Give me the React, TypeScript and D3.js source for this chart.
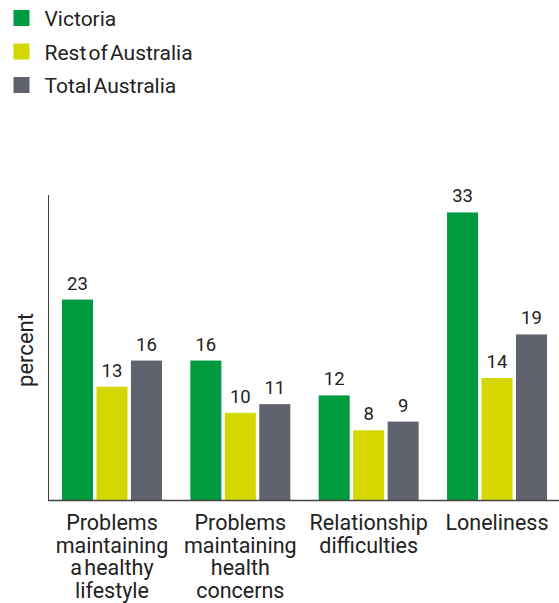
import React from "react";
import * as d3 from "d3";

const categories: string[][] = [
  ["Problems", "maintaining", "a healthy", "lifestyle"],
  ["Problems", "maintaining", "health", "concerns"],
  ["Relationship", "difficulties"],
  ["Loneliness"],
];
const seriesNames = ["Victoria", "Rest of Australia", "Total Australia"];
const victoria = [23, 16, 12, 33];
const restOfAustralia = [13, 10, 8, 14];
const totalAustralia = [16, 11, 9, 19];
const colors = ["#009B3E", "#D4D700", "#60626D"];

const W = 559;
const H = 603;

export default function App() {
  const series = [victoria, restOfAustralia, totalAustralia];
  const x0 = d3
    .scaleBand<number>()
    .domain(d3.range(categories.length))
    .range([48, 561])
    .paddingInner(0.221)
    .paddingOuter(0.109);
  const x1 = d3
    .scaleBand<number>()
    .domain(d3.range(series.length))
    .range([0, x0.bandwidth()])
    .paddingInner(0.1);
  const y = d3.scaleLinear().domain([0, 35]).range([500, 195]);
  const font = "Roboto, 'Noto Sans', sans-serif";
  const textColor = "#222";

  return (
    <svg
      width={W}
      height={H}
      style={{ position: "absolute", left: 0, top: 0, background: "#fff" }}
      fontFamily={font}
    >
      {/* legend */}
      {seriesNames.map((name, i) => (
        <g key={name} transform={`translate(13.5, ${10 + i * 33.5})`}>
          <rect width={16} height={16} fill={colors[i]} />
          <text
            x={31}
            y={16}
            fontSize={21}
            fill={textColor}
            style={{ wordSpacing: "-3px" }}
          >
            {name}
          </text>
        </g>
      ))}

      {/* bars */}
      {categories.map((_, ci) => (
        <g key={ci} transform={`translate(${x0(ci)},0)`}>
          {series.map((s, si) => (
            <g key={si}>
              <rect
                x={x1(si)}
                y={y(s[ci])}
                width={x1.bandwidth()}
                height={y(0) - y(s[ci])}
                fill={colors[si]}
              />
              <text
                x={(x1(si) as number) + x1.bandwidth() / 2}
                y={y(s[ci]) - 10}
                textAnchor="middle"
                fontSize={18.5}
                fill={textColor}
              >
                {s[ci]}
              </text>
            </g>
          ))}
        </g>
      ))}

      {/* axes */}
      <line x1={48.5} x2={48.5} y1={195} y2={500} stroke="#444" strokeWidth={1} />
      <line x1={48} x2={559} y1={500.5} y2={500.5} stroke="#444" strokeWidth={1.5} />

      {/* category labels */}
      {categories.map((lines, ci) => (
        <text
          key={ci}
          x={(x0(ci) as number) + x0.bandwidth() / 2}
          textAnchor="middle"
          fontSize={21.5}
          fill={textColor}
          style={{ wordSpacing: "-3px" }}
        >
          {lines.map((ln, li) => (
            <tspan key={li} x={(x0(ci) as number) + x0.bandwidth() / 2} y={530 + li * 22.5}>
              {ln}
            </tspan>
          ))}
        </text>
      ))}

      {/* y axis title */}
      <text
        transform={`translate(33, 350) rotate(-90)`}
        textAnchor="middle"
        fontSize={22}
        fill={textColor}
      >
        percent
      </text>
    </svg>
  );
}
